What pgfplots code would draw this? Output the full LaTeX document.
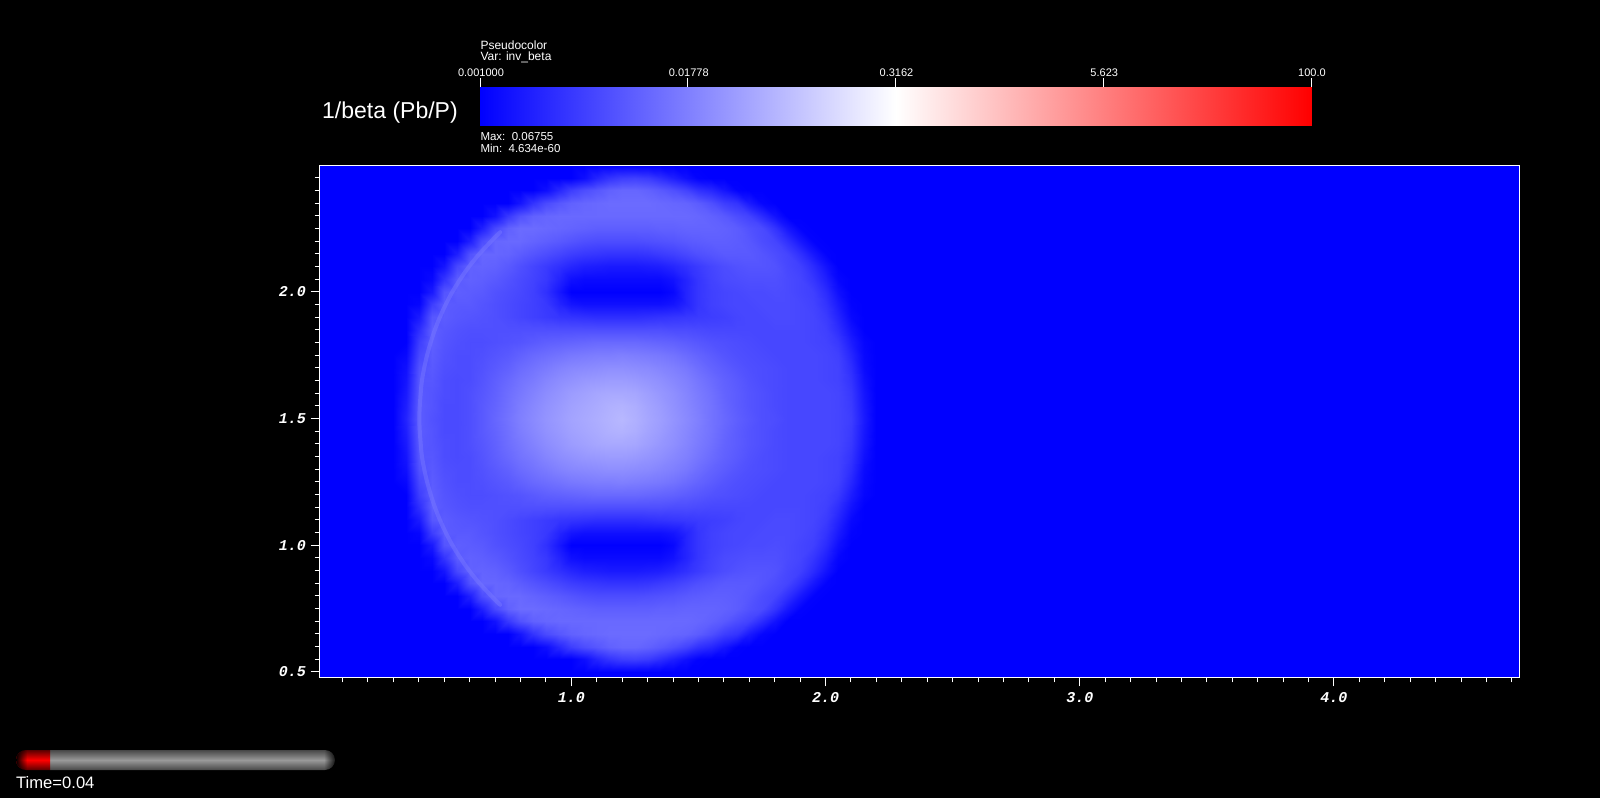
\documentclass[border=0pt]{standalone}
\usepackage{fontspec}
\usepackage{pgfplots}
\usepackage{pgfplotstable}
\usetikzlibrary{fadings}
\pgfplotsset{compat=1.18}
\setmainfont{Liberation Sans}
\newfontfamily\vtkmono{Liberation Mono}
\pgfplotsset{colormap={hotcold}{rgb255(0)=(0,0,255) rgb255(100)=(255,255,255) rgb255(200)=(255,0,0)}}
% Upper half of the field (y = 1.50 ... 2.50 in steps of 0.05, x = 0.30 ... 2.20 in steps of 0.05).
% Values: position on the blue-to-white part of the colour scale, in percent.
\pgfplotstableread[header=false,row sep=crcr]{
0\\14\\36\\32\\29\\29\\31\\35\\40\\45\\50\\54\\58\\61\\64\\66\\68\\70\\72\\69\\65\\62\\58\\54\\50\\45\\41\\37\\34\\31\\30\\28\\28\\28\\28\\27\\24\\10\\0\\
0\\12\\36\\33\\29\\29\\31\\35\\39\\44\\49\\53\\57\\60\\63\\65\\67\\69\\70\\68\\64\\61\\57\\53\\49\\45\\40\\36\\33\\31\\29\\28\\28\\28\\28\\27\\23\\9\\0\\
0\\10\\35\\33\\30\\29\\31\\34\\38\\43\\47\\51\\55\\58\\61\\63\\65\\66\\66\\65\\62\\59\\56\\52\\48\\44\\39\\36\\33\\31\\29\\28\\28\\28\\28\\27\\22\\8\\0\\
0\\8\\34\\34\\30\\29\\30\\33\\37\\41\\45\\48\\52\\55\\57\\59\\60\\61\\61\\60\\58\\56\\53\\50\\46\\42\\38\\35\\32\\30\\29\\28\\28\\28\\27\\26\\20\\6\\0\\
0\\6\\32\\35\\31\\30\\30\\32\\35\\38\\42\\45\\48\\51\\53\\54\\55\\56\\56\\55\\54\\52\\50\\47\\43\\39\\36\\33\\31\\30\\29\\28\\28\\28\\27\\26\\18\\4\\0\\
0\\3\\28\\36\\32\\30\\30\\31\\33\\35\\38\\41\\43\\45\\47\\48\\49\\49\\50\\49\\48\\47\\45\\42\\39\\36\\33\\31\\30\\29\\28\\28\\28\\28\\27\\25\\15\\3\\0\\
0\\0\\24\\37\\33\\31\\30\\30\\31\\32\\33\\35\\37\\38\\39\\40\\41\\41\\41\\41\\40\\39\\38\\36\\34\\32\\31\\30\\29\\28\\28\\28\\28\\27\\26\\22\\11\\2\\0\\
0\\0\\18\\37\\34\\32\\31\\31\\31\\31\\31\\31\\31\\31\\31\\31\\31\\31\\31\\31\\31\\31\\30\\30\\29\\28\\28\\28\\28\\28\\28\\28\\28\\27\\25\\18\\7\\0\\0\\
0\\0\\10\\34\\36\\34\\33\\32\\31\\29\\27\\25\\23\\21\\20\\19\\18\\18\\18\\18\\19\\20\\21\\22\\23\\24\\25\\27\\28\\28\\29\\29\\28\\27\\23\\14\\3\\0\\0\\
0\\0\\2\\24\\36\\35\\35\\33\\31\\29\\27\\25\\22\\14\\8\\6\\6\\6\\6\\6\\6\\6\\8\\14\\21\\25\\27\\28\\28\\29\\29\\29\\28\\26\\20\\10\\1\\0\\0\\
0\\0\\0\\10\\33\\37\\36\\35\\32\\30\\28\\25\\19\\9\\0\\0\\0\\0\\0\\0\\0\\0\\3\\14\\21\\25\\27\\28\\29\\29\\30\\29\\27\\25\\17\\6\\0\\0\\0\\
0\\0\\0\\3\\20\\36\\38\\37\\35\\32\\29\\26\\22\\14\\6\\4\\4\\4\\4\\4\\4\\4\\7\\14\\21\\26\\29\\30\\31\\31\\31\\29\\27\\21\\12\\2\\0\\0\\0\\
0\\0\\0\\0\\8\\28\\38\\39\\38\\35\\31\\27\\23\\19\\15\\12\\11\\10\\10\\10\\11\\12\\15\\19\\23\\27\\30\\32\\33\\33\\32\\28\\25\\17\\7\\0\\0\\0\\0\\
0\\0\\0\\0\\0\\12\\32\\40\\40\\39\\36\\33\\30\\27\\24\\22\\21\\20\\20\\20\\21\\23\\25\\28\\31\\33\\35\\35\\35\\33\\30\\27\\19\\9\\1\\0\\0\\0\\0\\
0\\0\\0\\0\\0\\0\\12\\30\\40\\41\\41\\39\\37\\35\\33\\31\\30\\30\\30\\30\\31\\32\\33\\35\\36\\37\\37\\36\\34\\30\\27\\19\\9\\1\\0\\0\\0\\0\\0\\
0\\0\\0\\0\\0\\0\\0\\12\\28\\38\\42\\42\\41\\40\\39\\38\\37\\37\\37\\37\\37\\38\\38\\39\\39\\39\\38\\36\\32\\29\\20\\9\\1\\0\\0\\0\\0\\0\\0\\
0\\0\\0\\0\\0\\0\\0\\0\\7\\22\\32\\38\\40\\41\\41\\41\\41\\41\\41\\41\\41\\41\\41\\41\\40\\38\\35\\30\\26\\17\\7\\0\\0\\0\\0\\0\\0\\0\\0\\
0\\0\\0\\0\\0\\0\\0\\0\\0\\0\\8\\20\\29\\34\\38\\40\\41\\42\\42\\42\\42\\41\\40\\39\\36\\31\\24\\20\\10\\2\\0\\0\\0\\0\\0\\0\\0\\0\\0\\
0\\0\\0\\0\\0\\0\\0\\0\\0\\0\\0\\0\\5\\15\\24\\30\\34\\38\\40\\40\\38\\35\\31\\26\\19\\15\\8\\1\\0\\0\\0\\0\\0\\0\\0\\0\\0\\0\\0\\
0\\0\\0\\0\\0\\0\\0\\0\\0\\0\\0\\0\\0\\0\\0\\5\\14\\20\\24\\25\\23\\18\\12\\6\\1\\0\\0\\0\\0\\0\\0\\0\\0\\0\\0\\0\\0\\0\\0\\
0\\0\\0\\0\\0\\0\\0\\0\\0\\0\\0\\0\\0\\0\\0\\0\\0\\0\\0\\0\\0\\0\\0\\0\\0\\0\\0\\0\\0\\0\\0\\0\\0\\0\\0\\0\\0\\0\\0\\
}\fieldtable
\begin{document}
\begin{tikzpicture}[x=1pt,y=1pt]
\fill[black] (0,0) rectangle (1600,798);
% main field
\begin{axis}[
  at={(319.5pt,120.7pt)}, anchor=south west, scale only axis,
  width=1199.8pt, height=512pt,
  xmin=0.0094, xmax=4.729, ymin=0.479, ymax=2.499,
  axis background/.style={fill=blue},
  axis on top,
  colormap name=hotcold, point meta min=0, point meta max=200,
  axis line style={white,line width=1.3pt},
  tick align=outside, tick pos=left,
  major tick length=9pt, minor tick length=5pt,
  tick style={white,line width=1pt},
  minor tick style={white,line width=1pt},
  xtick={1,2,3,4}, xticklabels={1.0,2.0,3.0,4.0},
  ytick={0.5,1,1.5,2}, yticklabels={0.5,1.0,1.5,2.0},
  minor xtick={0.1,0.2,...,4.75},
  minor ytick={0.55,0.6,...,2.46},
  tick label style={white,font=\vtkmono\bfseries\itshape\fontsize{15}{15}\selectfont},
  xticklabel style={yshift=-3pt},
  yticklabel style={xshift=-1pt},
]
\addplot[surf,shader=interp,mesh/cols=39,point meta=explicit] table[
  x index=0, y index=0,
  x expr={0.30+0.05*mod(\coordindex,39)},
  y expr={1.5+0.05*floor(\coordindex/39)},
  meta index=0] {\fieldtable};
\addplot[surf,shader=interp,mesh/cols=39,point meta=explicit] table[
  x index=0, y index=0,
  x expr={0.30+0.05*mod(\coordindex,39)},
  y expr={1.5-0.05*floor(\coordindex/39)},
  meta index=0] {\fieldtable};
% thin bright rim on the left of the ring
\definecolor{rimcol}{RGB}{125,125,255}
\addplot[smooth,no marks,color=rimcol,line width=4pt,opacity=0.42,line cap=round] coordinates {
(0.72,2.235)(0.69,2.205)(0.63,2.14)(0.58,2.075)(0.53,1.996)(0.49,1.916)(0.46,1.841)(0.435,1.759)(0.42,1.693)(0.41,1.629)(0.402,1.5)
(0.41,1.371)(0.42,1.307)(0.435,1.241)(0.46,1.159)(0.49,1.084)(0.53,1.004)(0.58,0.925)(0.63,0.86)(0.69,0.795)(0.72,0.765)};
\end{axis}
% colour bar
\begin{axis}[
  at={(480pt,672pt)}, anchor=south west, scale only axis,
  width=831pt, height=39pt,
  xmin=-3, xmax=2, ymin=0, ymax=1,
  colormap name=hotcold, point meta min=0, point meta max=200,
  axis line style={draw=none},
  ytick=\empty,
  xtick={-3,-1.75,-0.5,0.75,2},
  xticklabels={0.001000,0.01778,0.3162,5.623,100.0},
  xtick pos=upper, xticklabel pos=upper,
  tick align=outside, major tick length=8.5pt,
  tick style={white,line width=1pt},
  xticklabel style={white,font=\fontsize{11}{11}\selectfont,yshift=-2pt,xshift=1pt},
]
\addplot[surf,shader=interp,mesh/cols=3,point meta=explicit] table[meta=m] {
x y m
-3 0 0
-0.5 0 100
2 0 200
-3 1 0
-0.5 1 100
2 1 200
};
\end{axis}
% texts
\node[white,anchor=west,inner sep=0pt,font=\fontsize{23}{23}\selectfont] at (322,685) {1/beta (Pb/P)};
\node[white,anchor=west,inner sep=0pt,font=\fontsize{12}{12}\selectfont] at (480.3,753) {Pseudocolor};
\node[white,anchor=west,inner sep=0pt,font=\fontsize{12}{12}\selectfont] at (480.3,740.5) {Var: inv\_beta};
\node[white,anchor=west,inner sep=0pt,font=\fontsize{11.5}{11.5}\selectfont] at (480.3,661) {Max:\ \ 0.06755};
\node[white,anchor=west,inner sep=0pt,font=\fontsize{11.5}{11.5}\selectfont] at (480.3,650) {Min:\ \ 4.634e-60};
\node[white,anchor=west,inner sep=0pt,font=\fontsize{16.6}{16.6}\selectfont] at (16,15) {Time=0.04};
% time slider
\shade[top color=black!72,bottom color=black!72,middle color=black!40,rounded corners=10pt]
  (40,28) rectangle (335,48);
\begin{scope}
\clip[rounded corners=10pt] (16,28) rectangle (70,48);
\shade[top color=red!35!black,bottom color=red!35!black,middle color=red] (16,28) rectangle (50,48);
\fill[black,path fading=east] (16,28) rectangle (27,48);
\end{scope}
\begin{scope}
\clip[rounded corners=10pt] (300,27) rectangle (337,49);
\fill[black,path fading=west] (324,27) rectangle (337,49);
\end{scope}
\end{tikzpicture}
\end{document}
